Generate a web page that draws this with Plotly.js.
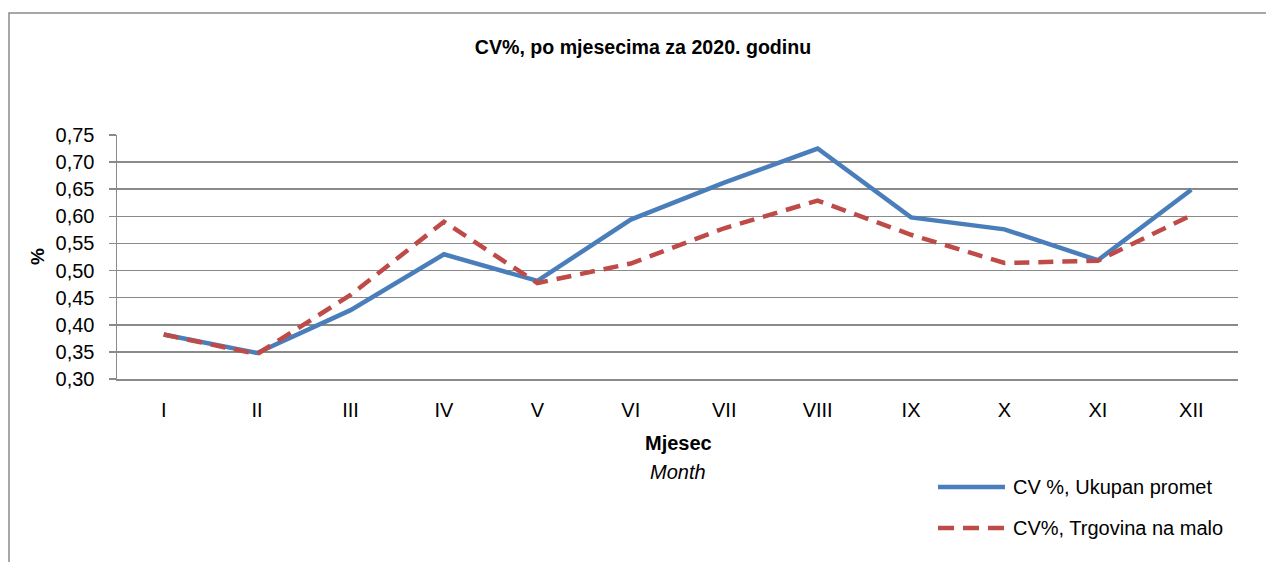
<!DOCTYPE html>
<html>
<head>
<meta charset="utf-8">
<script src="https://cdn.plot.ly/plotly-3.0.1.min.js"></script>
<style>
html,body{margin:0;padding:0;background:#fff;}
#chart{width:1266px;height:562px;}
</style>
</head>
<body>
<div id="chart"></div>
<script>
const months = ["I","II","III","IV","V","VI","VII","VIII","IX","X","XI","XII"];
const cvUkupan = [0.382,0.348,0.427,0.530,0.481,0.594,0.662,0.725,0.598,0.576,0.519,0.649];
const cvTrgovina = [0.382,0.346,0.455,0.590,0.477,0.513,0.578,0.629,0.566,0.514,0.518,0.602];
const seriesNames = ["CV %, Ukupan promet","CV%, Trgovina na malo"];
const titleText = "CV%, po mjesecima za 2020. godinu";

const FONT = "Liberation Sans, Arial, sans-serif";
const blue = "#4A7EBB", red = "#BE4B48", grid = "#8a8a8a";

// pixel -> paper helpers (plot area: x 117..1238, y 135..379)
const L = 117, R = 1238, T = 135, B = 379;
const px = v => (v - L) / (R - L);
const py = v => (B - v) / (B - T);

const traces = [
  {x: months, y: cvUkupan, name: seriesNames[0], type: "scatter", mode: "lines",
   line: {color: blue, width: 4.5}, showlegend: false},
  {x: months, y: cvTrgovina, name: seriesNames[1], type: "scatter", mode: "lines",
   line: {color: red, width: 4.5, dash: "15px,9px"}, showlegend: false}
];

const layout = {
  width: 1266, height: 562,
  margin: {l: L, r: 1266 - R, t: T, b: 562 - B, pad: 0},
  paper_bgcolor: "#fff", plot_bgcolor: "#fff",
  separators: ", ",
  font: {family: FONT, size: 20, color: "#000"},
  title: {text: "<b>" + titleText + "</b>", x: 643/1266, xanchor: "center", y: 1 - 47/562, yanchor: "middle",
          font: {family: FONT, size: 19.6, color: "#000"}},
  xaxis: {type: "category", range: [-0.5, 11.5], showgrid: false, zeroline: false,
          showline: true, linecolor: grid, linewidth: 1.5, ticks: "", ticklabelstandoff: 12,
          tickfont: {family: FONT, size: 20, color: "#000"}, fixedrange: true},
  yaxis: {range: [0.30, 0.75], dtick: 0.05, tick0: 0.30, tickformat: ".2f",
          showgrid: true, gridcolor: grid, gridwidth: 1.5, zeroline: false,
          showline: true, linecolor: grid, linewidth: 1.5, ticks: "outside", ticklen: 7,
          tickcolor: grid, tickwidth: 1.5, ticklabelstandoff: 10,
          tickfont: {family: FONT, size: 20, color: "#000"}, fixedrange: true},
  shapes: [
    {type: "rect", xref: "paper", yref: "paper", x0: px(9), x1: px(1275), y0: py(575), y1: py(13),
     line: {color: "#8a8a8a", width: 1.5}, fillcolor: "rgba(0,0,0,0)", layer: "below"},
    {type: "line", xref: "paper", yref: "paper", x0: px(938), x1: px(1005), y0: py(487), y1: py(487),
     line: {color: blue, width: 4.5}},
    {type: "line", xref: "paper", yref: "paper", x0: px(938), x1: px(1005), y0: py(528), y1: py(528),
     line: {color: red, width: 4.5, dash: "16px,9px"}}
  ],
  annotations: [
    {text: "<b>%</b>", xref: "paper", yref: "paper", x: px(37), y: py(257), textangle: -90,
     showarrow: false, xanchor: "center", yanchor: "middle", font: {family: FONT, size: 19}},
    {text: "<b>Mjesec</b>", xref: "paper", yref: "paper", x: px(678), y: py(443),
     showarrow: false, xanchor: "center", yanchor: "middle", font: {family: FONT, size: 20}},
    {text: "<i>Month</i>", xref: "paper", yref: "paper", x: px(678), y: py(472),
     showarrow: false, xanchor: "center", yanchor: "middle", font: {family: FONT, size: 20}},
    {text: seriesNames[0], xref: "paper", yref: "paper", x: px(1011), y: py(487),
     showarrow: false, xanchor: "left", yanchor: "middle", font: {family: FONT, size: 20}},
    {text: seriesNames[1], xref: "paper", yref: "paper", x: px(1011), y: py(528),
     showarrow: false, xanchor: "left", yanchor: "middle", font: {family: FONT, size: 20}}
  ]
};

Plotly.newPlot("chart", traces, layout, {staticPlot: true, displayModeBar: false});
</script>
</body>
</html>
